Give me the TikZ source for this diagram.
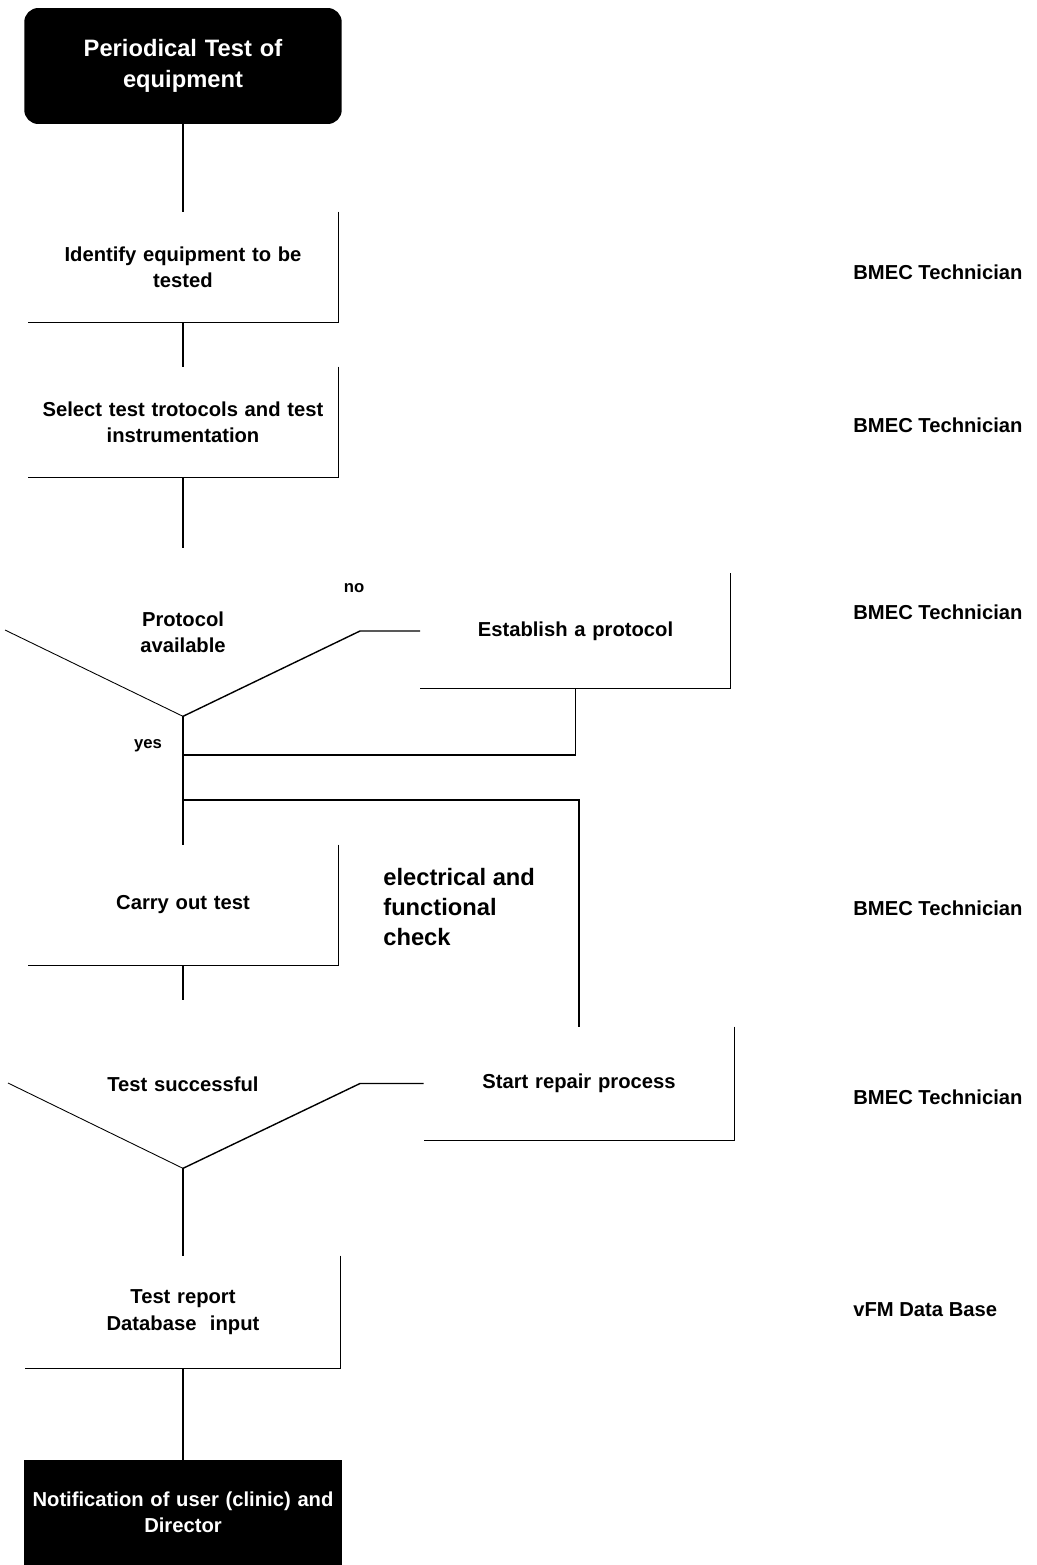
\documentclass[tikz,border=0pt]{standalone}
\usepackage{fontspec}
\setmainfont{Liberation Sans}
\usetikzlibrary{positioning}

\begin{document}
\begin{tikzpicture}[x=0.02cm, y=-0.02cm,
    every node/.style={font=\bfseries\fontsize{11.5}{15}\selectfont, align=center},
    stepbox/.style={minimum width=6.2cm, minimum height=2.2cm, text width=6cm, inner sep=0pt},
    blackbox/.style={fill=black, text=white, minimum width=6.35cm, text width=6.2cm, inner sep=0pt},
    ask/.style={minimum height=3.36cm, text width=4cm, inner sep=0pt},
    role/.style={anchor=west, inner sep=0pt},
    line/.style={line width=0.8pt},
    edge/.style={line width=0.6pt},
    thinline/.style={line width=0.5pt}]
    \useasboundingbox (0,0) rectangle (1037,1565);

    \node[blackbox, rounded corners=8pt, minimum height=2.32cm, font=\bfseries\fontsize{13.5}{18}\selectfont] (start) at (183,66) {Periodical Test of\\equipment};
    \node[stepbox] (ident) at (183,267) {Identify equipment to be\\tested};
    \node[stepbox] (select) at (183,422) {Select test trotocols and test\\instrumentation};
    \node[ask] (q1) at (183,632) {Protocol\\available};
    \node[stepbox, minimum height=2.3cm] (establish) at (575.5,631) {Establish a protocol};
    \node[stepbox, minimum height=2.4cm] (carry) at (183,905) {Carry out test};
    \node[ask] (q2) at (183,1084) {Test successful};
    \node[stepbox, minimum height=2.26cm] (repair) at (579,1083.5) {Start repair process};
    \node[stepbox, minimum width=6.3cm, minimum height=2.24cm] (report) at (183,1312) {Test report\\Database\ \ input};
    \node[blackbox, minimum height=2.1cm] (notify) at (183,1512.5) {Notification of user (clinic) and\\Director};

    \node[anchor=west, align=left, inner sep=0pt, font=\bfseries\fontsize{13.5}{17}\selectfont] (check) at (383,907) {electrical and\\functional\\check};
    \node[font=\bfseries\fontsize{9.5}{11}\selectfont] (no) at (354,588) {no};
    \node[font=\bfseries\fontsize{9.5}{11}\selectfont] (yes) at (148,746) {yes};

    \node[role] (role1) at (853,272) {BMEC Technician};
    \node[role] (role2) at (853,425) {BMEC Technician};
    \node[role] (role3) at (853,612) {BMEC Technician};
    \node[role] (role4) at (853,908) {BMEC Technician};
    \node[role] (role5) at (853,1097) {BMEC Technician};
    \node[role] (role6) at (853,1310) {vFM Data Base};

    % open boxes, right and bottom side only
    \draw[edge] (ident.north east) -- (ident.south east) -- (ident.south west);
    \draw[edge] (select.north east) -- (select.south east) -- (select.south west);
    \draw[edge] (establish.north east) -- (establish.south east) -- (establish.south west);
    \draw[edge] (carry.north east) -- (carry.south east) -- (carry.south west);
    \draw[edge] (repair.north east) -- (repair.south east) -- (repair.south west);
    \draw[edge] (report.north east) -- (report.south east) -- (report.south west);

    \coordinate (q1left) at (5,630);
    \coordinate (q1right) at (360,631);
    \coordinate (q2left) at (8,1083);
    \coordinate (q2right) at (360,1083.5);
    \coordinate (merge) at (183,755);
    \coordinate (branch) at (183,800);

    \draw[line] (start.south) -- (ident.north);
    \draw[line] (ident.south) -- (select.north);
    \draw[line] (select.south) -- (q1.north);
    \draw[thinline] (q1.south) -- (q1left);
    \draw[line] (q1.south) -- (q1right) -- (establish.west);
    \draw[line] (establish.south) |- (merge);
    \draw[line] (branch) -| (repair.north);
    \draw[line] (q1.south) -- (carry.north);
    \draw[line] (carry.south) -- (q2.north);
    \draw[thinline] (q2.south) -- (q2left);
    \draw[line] (q2.south) -- (q2right) -- (repair.west);
    \draw[line] (q2.south) -- (report.north);
    \draw[line] (report.south) -- (notify.north);
\end{tikzpicture}
\end{document}
